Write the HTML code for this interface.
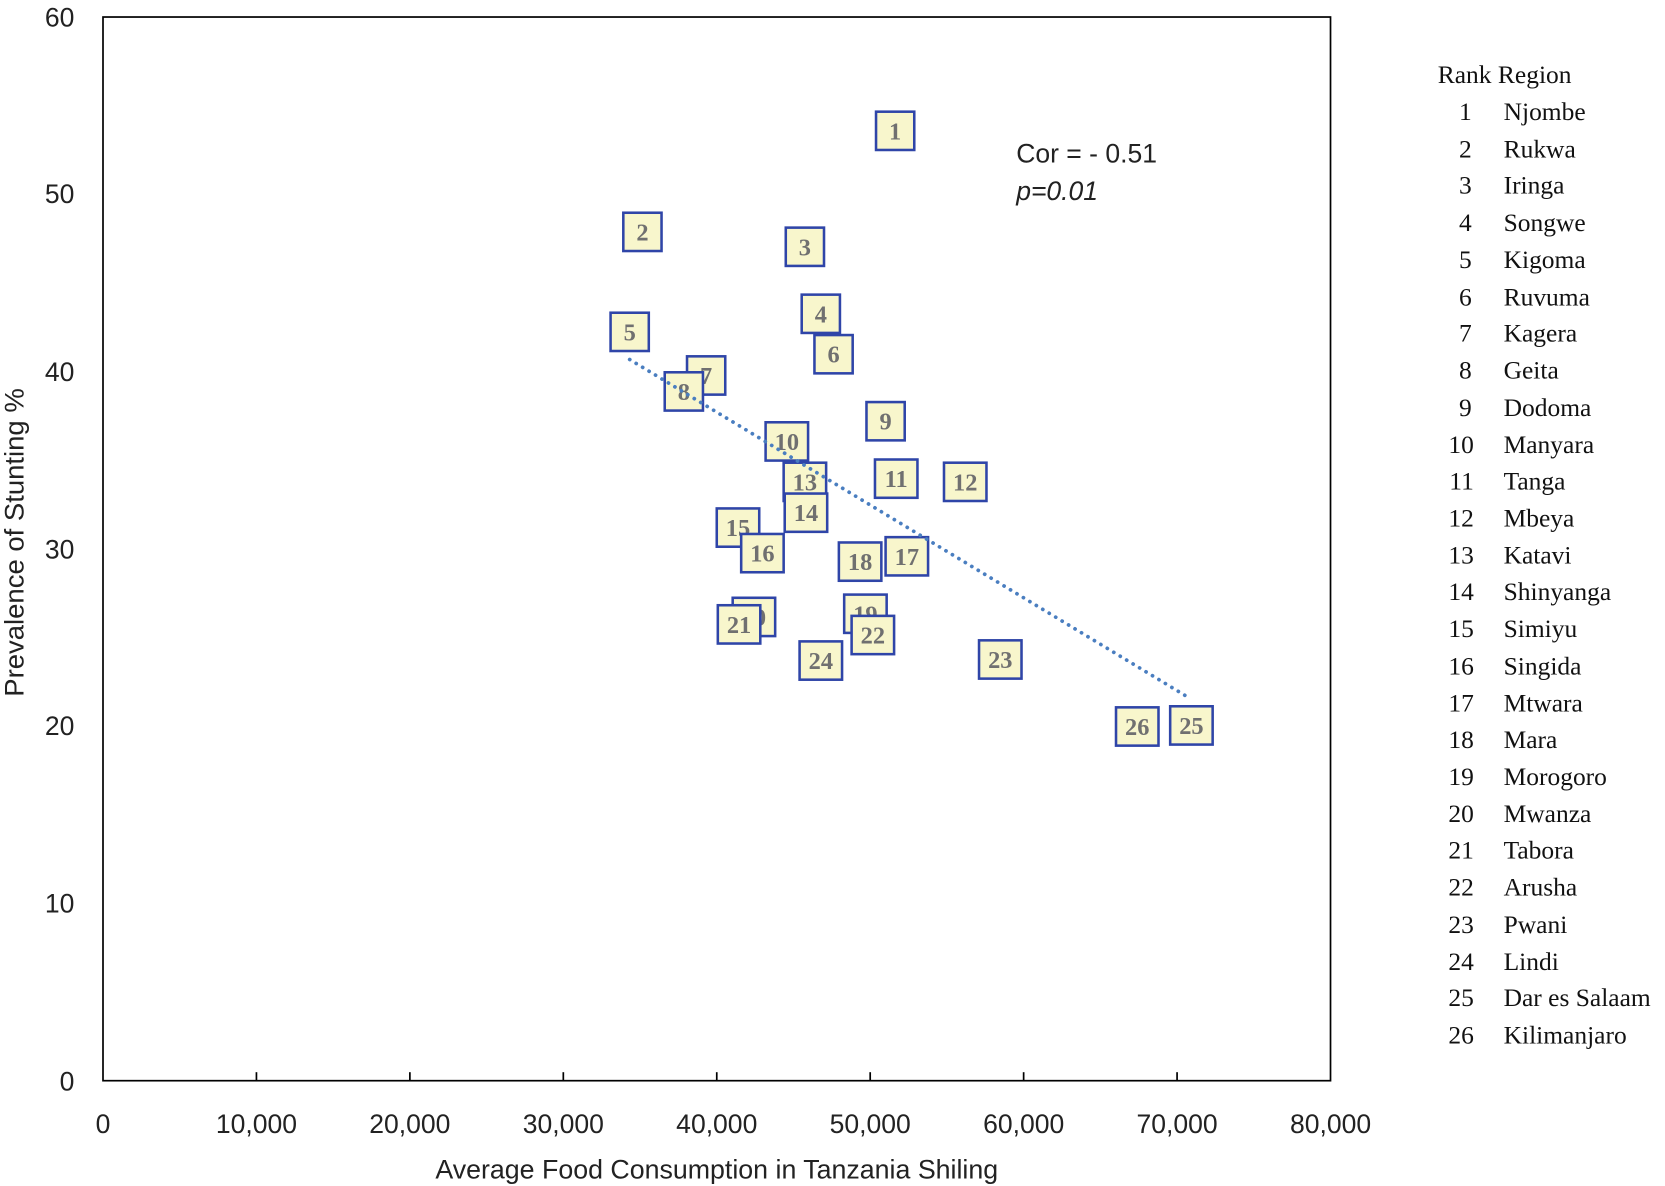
<!DOCTYPE html>
<html><head><meta charset="utf-8"><style>
html,body{margin:0;padding:0;background:#fff;}
svg{display:block;}
.t{font-family:"Liberation Sans",sans-serif;font-size:25px;fill:#222;}
.lg{font-family:"Liberation Serif",serif;font-size:24px;fill:#111;}
.b rect{fill:#f8f6cc;stroke:#2f45a8;stroke-width:2.4;}
.b text{font-family:"Liberation Serif",serif;font-weight:bold;font-size:23px;fill:#707070;text-anchor:middle;}
</style></head><body>
<svg width="1665" height="1186" viewBox="0 0 1568 1115" preserveAspectRatio="none" xmlns="http://www.w3.org/2000/svg">
<rect x="97" y="16" width="1156" height="1000" fill="none" stroke="#000" stroke-width="1.6"/>
<g stroke="#000" stroke-width="1.6">
<line x1="241.5" y1="1016" x2="241.5" y2="1008"/><line x1="386" y1="1016" x2="386" y2="1008"/>
<line x1="530.5" y1="1016" x2="530.5" y2="1008"/><line x1="675" y1="1016" x2="675" y2="1008"/>
<line x1="819.5" y1="1016" x2="819.5" y2="1008"/><line x1="964" y1="1016" x2="964" y2="1008"/>
<line x1="1108.5" y1="1016" x2="1108.5" y2="1008"/>
</g>
<g class="t" text-anchor="end">
<text x="70" y="25">60</text><text x="70" y="191">50</text><text x="70" y="358">40</text>
<text x="70" y="525">30</text><text x="70" y="691">20</text><text x="70" y="858">10</text><text x="70" y="1025">0</text>
</g>
<g class="t" text-anchor="middle">
<text x="97" y="1065">0</text><text x="241.5" y="1065">10,000</text><text x="386" y="1065">20,000</text>
<text x="530.5" y="1065">30,000</text><text x="675" y="1065">40,000</text><text x="819.5" y="1065">50,000</text>
<text x="964" y="1065">60,000</text><text x="1108.5" y="1065">70,000</text><text x="1253" y="1065">80,000</text>
</g>
<text class="t" x="410" y="1108" font-size="24" textLength="530" lengthAdjust="spacingAndGlyphs">Average Food Consumption in Tanzania Shiling</text>
<text class="t" transform="translate(22,655) rotate(-90)" font-size="23" textLength="290" lengthAdjust="spacingAndGlyphs">Prevalence of Stunting %</text>
<text class="t" x="957" y="153" font-size="24">Cor = - 0.51</text>
<text class="t" x="957" y="188" font-size="24" font-style="italic">p=0.01</text>
<g class="b">
<g transform="translate(843,123)"><rect x="-18" y="-18" width="36" height="36"/><text y="8">1</text></g>
<g transform="translate(605,218)"><rect x="-18" y="-18" width="36" height="36"/><text y="8">2</text></g>
<g transform="translate(758,232)"><rect x="-18" y="-18" width="36" height="36"/><text y="8">3</text></g>
<g transform="translate(773,295)"><rect x="-18" y="-18" width="36" height="36"/><text y="8">4</text></g>
<g transform="translate(593,312)"><rect x="-18" y="-18" width="36" height="36"/><text y="8">5</text></g>
<g transform="translate(785,333)"><rect x="-18" y="-18" width="36" height="36"/><text y="8">6</text></g>
<g transform="translate(665,353)"><rect x="-18" y="-18" width="36" height="36"/><text y="8">7</text></g>
<g transform="translate(644,368)"><rect x="-18" y="-18" width="36" height="36"/><text y="8">8</text></g>
<g transform="translate(834,396)"><rect x="-18" y="-18" width="36" height="36"/><text y="8">9</text></g>
<g transform="translate(741,415)"><rect x="-20" y="-18" width="40" height="36"/><text y="8">10</text></g>
<g transform="translate(844,450)"><rect x="-20" y="-18" width="40" height="36"/><text y="8">11</text></g>
<g transform="translate(909,453)"><rect x="-20" y="-18" width="40" height="36"/><text y="8">12</text></g>
<g transform="translate(758,453)"><rect x="-20" y="-18" width="40" height="36"/><text y="8">13</text></g>
<g transform="translate(759,482)"><rect x="-20" y="-18" width="40" height="36"/><text y="8">14</text></g>
<g transform="translate(695,496)"><rect x="-20" y="-18" width="40" height="36"/><text y="8">15</text></g>
<g transform="translate(718,520)"><rect x="-20" y="-18" width="40" height="36"/><text y="8">16</text></g>
<g transform="translate(854,523)"><rect x="-20" y="-18" width="40" height="36"/><text y="8">17</text></g>
<g transform="translate(810,528)"><rect x="-20" y="-18" width="40" height="36"/><text y="8">18</text></g>
<g transform="translate(815,577)"><rect x="-20" y="-18" width="40" height="36"/><text y="8">19</text></g>
<g transform="translate(710,580)"><rect x="-20" y="-18" width="40" height="36"/><text y="8">20</text></g>
<g transform="translate(696,587)"><rect x="-20" y="-18" width="40" height="36"/><text y="8">21</text></g>
<g transform="translate(822,597)"><rect x="-20" y="-18" width="40" height="36"/><text y="8">22</text></g>
<g transform="translate(942,620)"><rect x="-20" y="-18" width="40" height="36"/><text y="8">23</text></g>
<g transform="translate(773,621)"><rect x="-20" y="-18" width="40" height="36"/><text y="8">24</text></g>
<g transform="translate(1122,682)"><rect x="-20" y="-18" width="40" height="36"/><text y="8">25</text></g>
<g transform="translate(1071,683)"><rect x="-20" y="-18" width="40" height="36"/><text y="8">26</text></g>
</g>
<line x1="593" y1="338" x2="1118" y2="655" stroke="#4a7ec0" stroke-width="3.5" stroke-linecap="round" stroke-dasharray="0.1 7"/>
<g class="lg">
<text x="1354" y="78">Rank Region</text>
<g text-anchor="end">
<text x="1386" y="113">1</text><text x="1386" y="148">2</text><text x="1386" y="182">3</text><text x="1386" y="217">4</text>
<text x="1386" y="252">5</text><text x="1386" y="287">6</text><text x="1386" y="321">7</text><text x="1386" y="356">8</text>
<text x="1386" y="391">9</text><text x="1388" y="426">10</text><text x="1388" y="460">11</text><text x="1388" y="495">12</text>
<text x="1388" y="530">13</text><text x="1388" y="564">14</text><text x="1388" y="599">15</text><text x="1388" y="634">16</text>
<text x="1388" y="669">17</text><text x="1388" y="703">18</text><text x="1388" y="738">19</text><text x="1388" y="773">20</text>
<text x="1388" y="807">21</text><text x="1388" y="842">22</text><text x="1388" y="877">23</text><text x="1388" y="912">24</text>
<text x="1388" y="946">25</text><text x="1388" y="981">26</text>
</g>
<text x="1416" y="113">Njombe</text><text x="1416" y="148">Rukwa</text><text x="1416" y="182">Iringa</text><text x="1416" y="217">Songwe</text>
<text x="1416" y="252">Kigoma</text><text x="1416" y="287">Ruvuma</text><text x="1416" y="321">Kagera</text><text x="1416" y="356">Geita</text>
<text x="1416" y="391">Dodoma</text><text x="1416" y="426">Manyara</text><text x="1416" y="460">Tanga</text><text x="1416" y="495">Mbeya</text>
<text x="1416" y="530">Katavi</text><text x="1416" y="564">Shinyanga</text><text x="1416" y="599">Simiyu</text><text x="1416" y="634">Singida</text>
<text x="1416" y="669">Mtwara</text><text x="1416" y="703">Mara</text><text x="1416" y="738">Morogoro</text><text x="1416" y="773">Mwanza</text>
<text x="1416" y="807">Tabora</text><text x="1416" y="842">Arusha</text><text x="1416" y="877">Pwani</text><text x="1416" y="912">Lindi</text>
<text x="1416" y="946">Dar es Salaam</text><text x="1416" y="981">Kilimanjaro</text>
</g>
</svg>
</body></html>
